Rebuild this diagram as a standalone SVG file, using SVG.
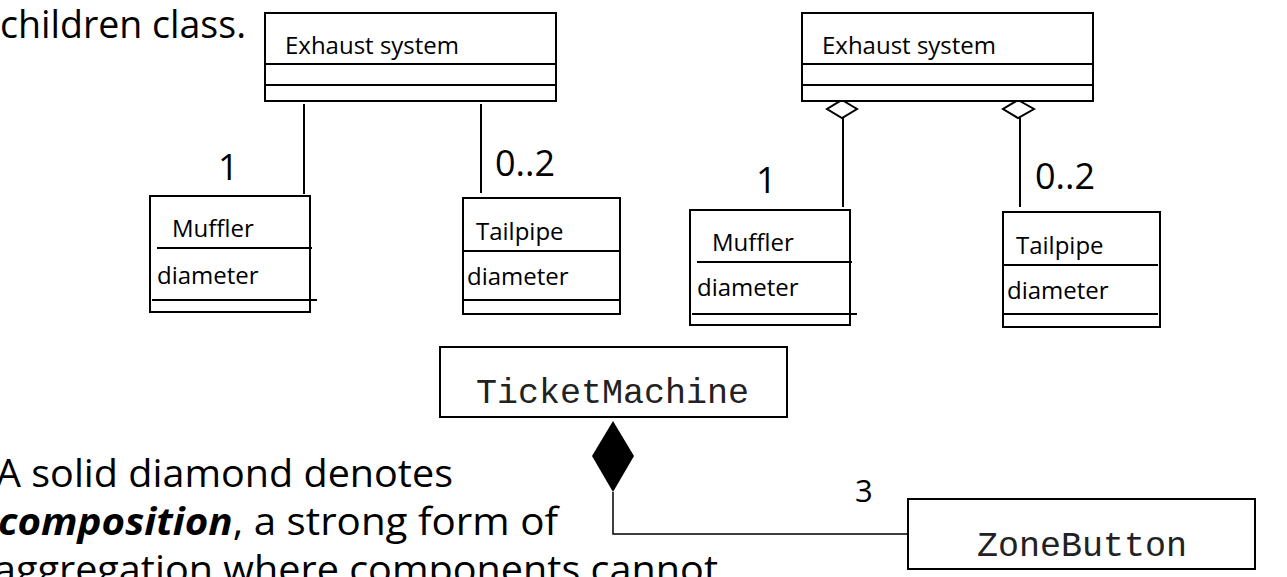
<svg xmlns="http://www.w3.org/2000/svg" width="1287" height="577" viewBox="0 0 1287 577">
<style>
.box{fill:#fff;stroke:#000;stroke-width:2}
.div{stroke:#000;stroke-width:2}
.ln{stroke:#000;stroke-width:2;fill:none}
.t{font-family:"Open Sans","Noto Sans","DejaVu Sans",sans-serif;fill:#000}
.nm{font-size:24px}
.mult{font-size:36px}
.mono{font-family:"Liberation Mono","Courier New",monospace;font-size:35px;fill:#222}
.body{font-size:38px}
</style>
<rect width="1287" height="577" fill="#fff"/>
<g id="text-left">
<text class="t body" x="0" y="38" textLength="246" lengthAdjust="spacingAndGlyphs">children class.</text>
<text class="t body" x="-4" y="487" textLength="457" lengthAdjust="spacingAndGlyphs">A solid diamond denotes</text>
<text class="t body" x="-2" y="535" textLength="560" lengthAdjust="spacingAndGlyphs"><tspan font-weight="bold" font-style="italic">composition</tspan>, a strong form of</text>
<text class="t body" x="-6" y="583" textLength="724" lengthAdjust="spacingAndGlyphs">aggregation where components cannot</text>
</g>
<g id="connectors">
<line class="ln" x1="304" y1="104" x2="304" y2="194"/>
<line class="ln" x1="481" y1="104" x2="481" y2="193"/>
<polygon points="842,100 857,109 842,118 827,109" fill="#fff" stroke="#000" stroke-width="2"/>
<line class="ln" x1="843" y1="118" x2="843" y2="207"/>
<polygon points="1018,100 1034,109 1018,118 1003,109" fill="#fff" stroke="#000" stroke-width="2"/>
<line class="ln" x1="1020" y1="118" x2="1020" y2="207"/>
<polygon points="613,421 634,456 613,492 592,456" fill="#000"/>
<polyline points="613,492 613,534 908,534" fill="none" stroke="#000" stroke-width="1.5"/>
<text class="t mult" x="218" y="180">1</text>
<text class="t mult" x="495" y="176">0..2</text>
<text class="t mult" x="756" y="193">1</text>
<text class="t mult" x="1035" y="189">0..2</text>
<text class="t" font-size="31" x="855" y="502">3</text>
</g>
<g id="exhaust-left">
<rect class="box" x="265" y="13" width="291" height="88"/>
<line class="div" x1="265" y1="64" x2="556" y2="64"/>
<line class="div" x1="265" y1="85" x2="556" y2="85"/>
<text class="t nm" x="285" y="54">Exhaust system</text>
</g>
<g id="muffler-left">
<rect class="box" x="150" y="196" width="160" height="116"/>
<line class="div" x1="157" y1="248" x2="312" y2="248"/>
<line class="div" x1="152" y1="300" x2="317" y2="300"/>
<text class="t nm" x="172" y="237">Muffler</text>
<text class="t nm" x="157" y="284">diameter</text>
</g>
<g id="tailpipe-left">
<rect class="box" x="463" y="198" width="157" height="116"/>
<line class="div" x1="463" y1="251" x2="619" y2="251"/>
<line class="div" x1="463" y1="300" x2="619" y2="300"/>
<text class="t nm" x="476" y="240">Tailpipe</text>
<text class="t nm" x="467" y="285">diameter</text>
</g>
<g id="exhaust-right">
<rect class="box" x="802" y="13" width="291" height="88"/>
<line class="div" x1="802" y1="64" x2="1093" y2="64"/>
<line class="div" x1="802" y1="85" x2="1093" y2="85"/>
<text class="t nm" x="822" y="54">Exhaust system</text>
</g>
<g id="muffler-right">
<rect class="box" x="690" y="210" width="160" height="115"/>
<line class="div" x1="697" y1="262" x2="852" y2="262"/>
<line class="div" x1="692" y1="314" x2="857" y2="314"/>
<text class="t nm" x="712" y="251">Muffler</text>
<text class="t nm" x="697" y="296">diameter</text>
</g>
<g id="tailpipe-right">
<rect class="box" x="1003" y="212" width="157" height="115"/>
<line class="div" x1="1003" y1="265" x2="1158" y2="265"/>
<line class="div" x1="1003" y1="314" x2="1158" y2="314"/>
<text class="t nm" x="1016" y="254">Tailpipe</text>
<text class="t nm" x="1007" y="299">diameter</text>
</g>
<g id="ticketmachine">
<rect class="box" x="440" y="347" width="347" height="70"/>
<text class="mono" x="476" y="403">TicketMachine</text>
</g>
<g id="zonebutton">
<rect class="box" x="908" y="499" width="347" height="70"/>
<text class="mono" x="977" y="556">ZoneButton</text>
</g>
</svg>
